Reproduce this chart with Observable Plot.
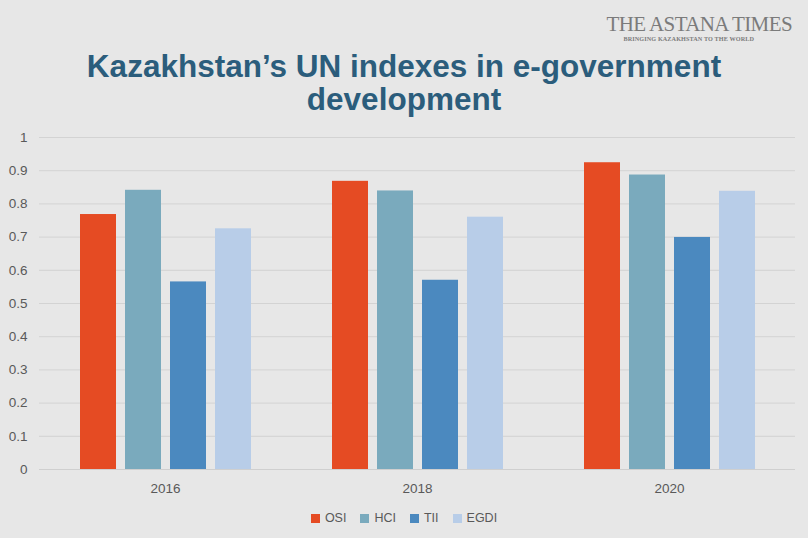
<!DOCTYPE html>
<html>
<head>
<meta charset="utf-8">
<script src="https://cdn.jsdelivr.net/npm/d3@7"></script>
<script src="https://cdn.jsdelivr.net/npm/@observablehq/plot@0.6"></script>
<style>
  html, body { margin: 0; padding: 0; background: #e7e7e7; }
  #wrap { position: relative; width: 808px; height: 538px; background: #e7e7e7; overflow: hidden; font-family: "Liberation Sans", Arial, sans-serif; }
  #logo { position: absolute; left: 580px; top: 13px; width: 212px; color: #7b7b7b; font-family: "Liberation Serif", "DejaVu Serif", serif; text-align: right; }
  #logo .main { font-size: 21px; letter-spacing: -0.6px; line-height: 22px; white-space: nowrap; }
  #logo .sub { font-size: 6.2px; font-weight: bold; letter-spacing: 0.1px; line-height: 8px; text-align: right; padding-right: 38px; white-space: nowrap; }
  .title { position: absolute; left: 0; width: 808px; height: 33px; text-align: center; color: #2b5d7c; font-weight: bold; font-size: 31.5px; line-height: 33px; white-space: nowrap; }
  #t1 { top: 50px; }
  #t2 { top: 83px; }
  #chart { position: absolute; left: 0; top: 120px; }
  #legend { position: absolute; left: 0; top: 511px; width: 808px; text-align: center; font-size: 12.5px; color: #595959; }
  #legend span.item { display: inline-block; margin: 0 7px; }
  #legend span.sw { display: inline-block; width: 9px; height: 9px; margin-right: 5px; vertical-align: -1px; }
</style>
</head>
<body>
<div id="wrap">
  <div id="logo"><div class="main">THE ASTANA TIMES</div><div class="sub">BRINGING KAZAKHSTAN TO THE WORLD</div></div>
  <div class="title" id="t1">Kazakhstan’s UN indexes in e-government</div>
  <div class="title" id="t2">development</div>
  <div id="chart"></div>
  <div id="legend"></div>
</div>
<script>
const years = ["2016", "2018", "2020"];
const seriesNames = ["OSI", "HCI", "TII", "EGDI"];
const seriesColors = ["#e54b23", "#7aaabd", "#4b89bf", "#b8cde8"];
const osi  = [0.768, 0.868, 0.924];
const hci  = [0.841, 0.839, 0.887];
const tii  = [0.565, 0.570, 0.699];
const egdi = [0.725, 0.760, 0.838];
const yTicks = [0, 0.1, 0.2, 0.3, 0.4, 0.5, 0.6, 0.7, 0.8, 0.9, 1];

const valuesBySeries = [osi, hci, tii, egdi];
const rows = [];
years.forEach((yr, i) => {
  seriesNames.forEach((s, j) => {
    rows.push({year: yr, series: s, value: valuesBySeries[j][i]});
  });
});

const chart = Plot.plot({
  width: 808,
  height: 379,
  marginLeft: 38,
  marginRight: 13,
  marginTop: 17,
  marginBottom: 30,
  style: {background: "transparent", fontFamily: "'Liberation Sans', Arial, sans-serif", fontSize: "13.5px", color: "#595959"},
  fx: {domain: years, padding: 0, label: null, axis: "bottom", tickSize: 0, tickPadding: 14},
  x: {domain: seriesNames, axis: null, paddingInner: 0.21, paddingOuter: 0.87},
  y: {domain: [0, 1], ticks: yTicks, tickFormat: d => String(+d.toFixed(1)), tickSize: 0, tickPadding: 12, label: null},
  color: {domain: seriesNames, range: seriesColors},
  marks: [
    Plot.gridY(yTicks, {stroke: "#d3d3d3", strokeOpacity: 1}),
    Plot.barY(rows, {fx: "year", x: "series", y: "value", fill: "series"}),
    Plot.ruleY([0], {stroke: "#cfcfcf"})
  ]
});
document.getElementById("chart").appendChild(chart);

const legend = document.getElementById("legend");
seriesNames.forEach((s, i) => {
  const it = document.createElement("span");
  it.className = "item";
  const sw = document.createElement("span");
  sw.className = "sw";
  sw.style.background = seriesColors[i];
  it.appendChild(sw);
  it.appendChild(document.createTextNode(s));
  legend.appendChild(it);
});
</script>
</body>
</html>
